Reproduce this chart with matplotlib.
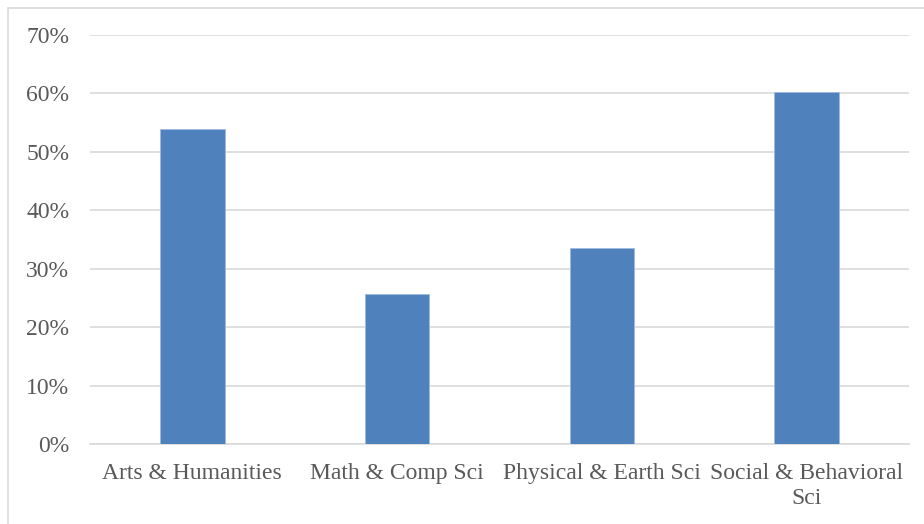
import matplotlib
matplotlib.use("Agg")
import matplotlib.pyplot as plt
from matplotlib.patches import Rectangle
from matplotlib.ticker import PercentFormatter

categories = ["Arts & Humanities", "Math & Comp Sci", "Physical & Earth Sci", "Social & Behavioral\nSci"]
shares = [0.539, 0.257, 0.335, 0.602]
yticks = [0.0, 0.1, 0.2, 0.3, 0.4, 0.5, 0.6, 0.7]

W, H = 924, 524
fig = plt.figure(figsize=(W / 100, H / 100), dpi=100)
plt.rcParams["font.family"] = ["Liberation Serif", "DejaVu Serif"]

# chart frame
fig.patches.append(Rectangle((8 / W, -0.01), 1.02, 1 - 8 / H + 0.01, transform=fig.transFigure,
                             fill=False, edgecolor="#d9d9d9", linewidth=1.2))

left, right = 90 / W, 909 / W
bottom, top = 1 - 444 / H, 1 - 35 / H
ax = fig.add_axes([left, bottom, right - left, top - bottom])

x = range(len(categories))
ax.bar(x, shares, width=0.315, color="#4f81bd", edgecolor="#9dbbe0", linewidth=0.6, zorder=3)

ax.set_xlim(-0.5, len(categories) - 0.5)
ax.set_ylim(0, 0.7)
ax.set_yticks(yticks)
ax.yaxis.set_major_formatter(PercentFormatter(1.0, decimals=0))
ax.set_xticks(list(x))
ax.set_xticklabels(categories, linespacing=1.2)

ax.grid(axis="y", color="#d9d9d9", linewidth=1.2, zorder=0)
for side in ["top", "right", "left"]:
    ax.spines[side].set_visible(False)
ax.spines["bottom"].set_color("#d9d9d9")
ax.spines["bottom"].set_linewidth(1.2)

ax.tick_params(axis="both", length=0, labelsize=17, labelcolor="#595959")
ax.tick_params(axis="y", pad=15)
ax.tick_params(axis="x", pad=14)

fig.savefig("out.png", dpi=100)
